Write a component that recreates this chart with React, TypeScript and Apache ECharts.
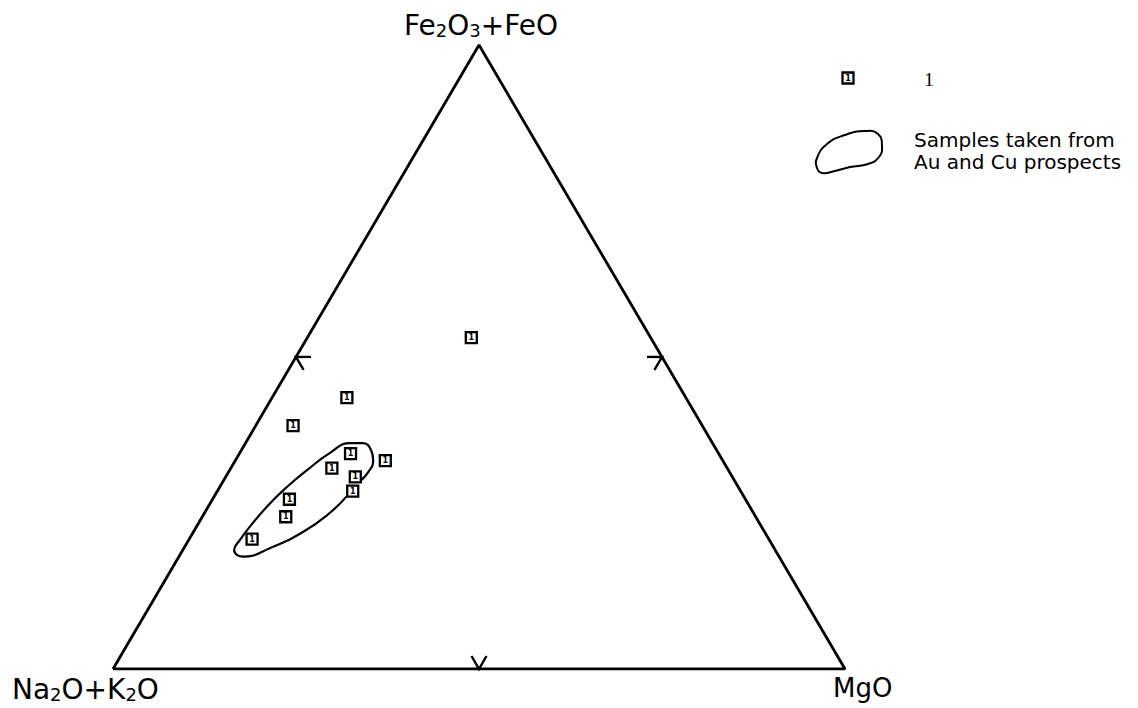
import React, { useEffect, useRef } from "react";
import * as echarts from "echarts";

// AFM ternary diagram: Na2O+K2O (A) – Fe2O3+FeO (F) – MgO (M), values in wt %.
const sampleAlk = [24.5, 46.3, 55.9, 50.3, 46.1, 54.0, 51.5, 53.0, 62.3, 64.2, 70.6];
const sampleFe = [53.1, 43.5, 39.0, 34.5, 33.4, 32.2, 30.8, 28.5, 27.2, 24.4, 20.8];
const sampleMg = [22.4, 10.2, 5.1, 15.2, 20.5, 13.8, 17.7, 18.5, 10.5, 11.4, 8.6];

// Outline of the field of samples from Au and Cu prospects (Fe and Mg in %, alkalis = rest)
const envelopeFe = [30.1, 31.6, 33.3, 35.1, 36.2, 36.2, 34.6, 31.9, 29.2, 26.6, 23.4, 20.7, 19.1, 18.0, 19.4, 22.0, 25.0, 27.7];
const envelopeMg = [18.7, 19.1, 18.9, 17.7, 16.0, 14.3, 12.3, 10.6, 9.2, 8.2, 7.4, 7.0, 7.0, 8.8, 11.8, 15.0, 17.1, 18.1];

// Triangle corners as [A, F, M]
const cornerAlk: [number, number, number] = [100, 0, 0];
const cornerMg: [number, number, number] = [0, 0, 100];
const cornerFe: [number, number, number] = [0, 100, 0];

const legendSymbolLabel = "1";
const legendFieldLines = ["Samples taken from", "Au and Cu prospects"];

// ternary -> plane (x: 0..100 from A to M, y: 0..100 from base to F apex)
function toXY(a: number, f: number, m: number): [number, number] {
  const t = a + f + m;
  const fr = f / t;
  const mr = m / t;
  return [(mr + fr / 2) * 100, fr * 100];
}

const FONT = "DejaVu Sans, sans-serif";

export default function App() {
  const ref = useRef<HTMLDivElement>(null);

  useEffect(() => {
    if (!ref.current) return;
    const chart = echarts.init(ref.current, null, { renderer: "svg" });

    const pA = toXY(...cornerAlk);
    const pM = toXY(...cornerMg);
    const pF = toXY(...cornerFe);
    const triangle = [pA, pM, pF, pA];

    const samples = sampleAlk.map((a, i) => toXY(a, sampleFe[i], sampleMg[i]));
    const envelope = envelopeFe.map((f, i) => toXY(100 - f - envelopeMg[i], f, envelopeMg[i]));

    // midpoint of each side, paired with the opposite corner (direction of the tick)
    const mid = (p: number[], q: number[]) => [(p[0] + q[0]) / 2, (p[1] + q[1]) / 2];
    const arrows = [
      [...mid(pA, pF), ...pM],
      [...mid(pF, pM), ...pA],
      [...mid(pA, pM), ...pF],
    ];

    const sub = { fontSize: 18, fontFamily: FONT, fill: "#000", verticalAlign: "bottom" };
    const main = { fontSize: 28, fontFamily: FONT, fill: "#000" };

    chart.setOption({
      animation: false,
      backgroundColor: "#fff",
      grid: { left: 113, right: 293, top: 45, bottom: 39 },
      xAxis: { type: "value", min: 0, max: 100, show: false },
      yAxis: { type: "value", min: 0, max: 100, show: false },
      series: [
        {
          type: "line",
          data: triangle,
          symbol: "none",
          lineStyle: { color: "#000", width: 2.8 },
          z: 2,
        },
        {
          type: "custom",
          data: arrows,
          dimensions: ["x", "y", "ox", "oy"],
          encode: { x: [0, 2], y: [1, 3] },
          renderItem: (_p: any, api: any) => {
            const p = api.coord([api.value(0), api.value(1)]);
            const q = api.coord([api.value(2), api.value(3)]);
            let dx = q[0] - p[0];
            let dy = q[1] - p[1];
            const len = Math.hypot(dx, dy);
            dx /= len;
            dy /= len;
            const L = 15;
            const arm = (ang: number) => {
              const c = Math.cos(ang);
              const s = Math.sin(ang);
              return [p[0] + L * (dx * c - dy * s), p[1] + L * (dx * s + dy * c)];
            };
            return {
              type: "polyline",
              shape: { points: [arm(Math.PI / 6), p, arm(-Math.PI / 6)] },
              style: { stroke: "#000", lineWidth: 2.4, fill: "none" },
            };
          },
          z: 3,
        },
        {
          type: "line",
          data: envelope,
          smooth: 0.5,
          symbol: "none",
          lineStyle: { color: "#000", width: 2.2 },
          z: 2,
        },
        {
          type: "scatter",
          data: samples,
          symbol: "rect",
          symbolSize: 11,
          itemStyle: { color: "#fff", borderColor: "#000", borderWidth: 2.3, opacity: 1 },
          label: {
            show: true,
            position: "inside",
            formatter: legendSymbolLabel,
            fontSize: 8,
            fontWeight: "bold",
            color: "#000",
            fontFamily: FONT,
          },
          z: 4,
        },
      ],
      graphic: [
        {
          type: "text",
          x: 481,
          y: 25,
          style: {
            text: "{n|Fe}{s|2}{n|O}{s|3}{n|+FeO}",
            align: "center",
            verticalAlign: "middle",
            rich: { n: main, s: sub },
          },
        },
        {
          type: "text",
          x: 12,
          y: 689,
          style: {
            text: "{n|Na}{s|2}{n|O+K}{s|2}{n|O}",
            align: "left",
            verticalAlign: "middle",
            rich: { n: main, s: sub },
          },
        },
        {
          type: "text",
          x: 833,
          y: 688,
          style: { text: "MgO", fontSize: 26, fontFamily: FONT, fill: "#000", align: "left", verticalAlign: "middle" },
        },
        {
          type: "rect",
          shape: { x: 842.5, y: 72.5, width: 11, height: 11 },
          style: { fill: "#fff", stroke: "#000", lineWidth: 2.3 },
        },
        {
          type: "text",
          x: 848,
          y: 78,
          style: { text: legendSymbolLabel, fontSize: 8, fontWeight: "bold", fontFamily: FONT, fill: "#000", align: "center", verticalAlign: "middle" },
        },
        {
          type: "text",
          x: 929,
          y: 79,
          style: { text: legendSymbolLabel, fontSize: 19, fontFamily: "Liberation Serif, serif", fill: "#000", align: "center", verticalAlign: "middle" },
        },
        {
          type: "polygon",
          shape: {
            points: [
              [817, 158], [827, 144], [845, 135], [865, 131], [878, 134], [882, 146],
              [879, 157], [868, 164], [850, 167], [835, 171], [822, 173], [817, 168],
            ],
            smooth: 0.5,
          },
          style: { fill: "none", stroke: "#000", lineWidth: 2 },
        },
        {
          type: "text",
          x: 914,
          y: 139.5,
          style: { text: legendFieldLines[0], fontSize: 20, fontFamily: FONT, fill: "#000", align: "left", verticalAlign: "middle" },
        },
        {
          type: "text",
          x: 914,
          y: 161.5,
          style: { text: legendFieldLines[1], fontSize: 20, fontFamily: FONT, fill: "#000", align: "left", verticalAlign: "middle" },
        },
      ],
    });

    return () => chart.dispose();
  }, []);

  return <div ref={ref} style={{ position: "fixed", left: 0, top: 0, width: 1138, height: 708 }} />;
}
